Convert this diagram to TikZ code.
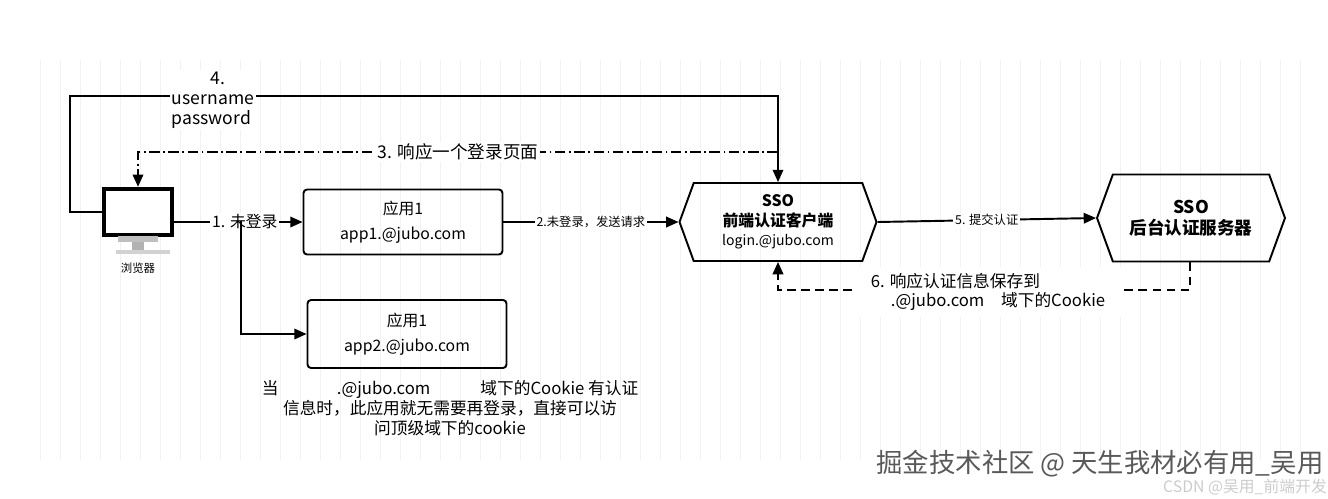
\documentclass[tikz,border=0pt]{standalone}
\usepackage{fontspec}
\setmainfont{Noto Sans CJK SC}
\usetikzlibrary{positioning,arrows.meta,shapes.misc,shapes.symbols}

\tikzset{
  flow/.style = {draw = black, line width = 1.1pt, -{Triangle[length=7pt,width=6pt]}},
  appbox/.style = {rectangle, rounded corners = 2pt, draw = black, line width = 1.1pt,
      minimum width = 3.98cm, minimum height = 1.3cm, align = center, font = \fontsize{9}{14}\selectfont},
  ssobox/.style = {signal, signal to = east and west, signal pointer angle = 140, draw = black,
      line width = 1.1pt, align = center, inner sep = 2pt},
  lbl/.style = {fill = white, inner sep = 1pt, font = \fontsize{9}{12}\selectfont},
  small/.style = {fill = white, inner sep = 1pt, font = \fontsize{7}{9}\selectfont},
}

\begin{document}
\begin{tikzpicture}[x=0.02cm, y=-0.02cm]
\useasboundingbox (0,0) rectangle (1328,498);

% faint grid
\draw[gray!10, step=20] (40,60) grid (1300,460);

% browser
\node[rectangle, draw = black, line width = 2.5pt, fill = white,
    minimum width = 1.36cm, minimum height = 0.92cm] (pc) at (138,212) {};
\fill[gray!50] (118,236) rectangle (158,242);
\fill[gray!60] (132,242) rectangle (144,250);
\fill[gray!35] (116,250) rectangle (170,254);
\node[font = \fontsize{6.5}{8}\selectfont] (pclbl) at (138,268) {浏览器};

% apps
\node[appbox] (app1) at (403,222) {应用1\\app1.@jubo.com};
\node[appbox, minimum height = 1.36cm] (app2) at (407,334) {应用1\\app2.@jubo.com};

% sso
\node[ssobox, minimum width = 3.94cm, minimum height = 1.56cm] (front) at (778,222)
    {\textbf{\fontsize{9}{12}\selectfont SSO}\\[-1pt]\textbf{\fontsize{9}{12}\selectfont 前端认证客户端}\\[-1pt]{\fontsize{8}{11}\selectfont login.@jubo.com}};
\node[ssobox, minimum width = 3.76cm, minimum height = 1.74cm] (back) at (1191,218)
    {\textbf{\fontsize{10}{13}\selectfont SSO}\\\textbf{\fontsize{10}{13}\selectfont 后台认证服务器}};

\coordinate (split) at (241,221);
\coordinate (up4) at (70,96);
\coordinate (dn6) at (1190,290);

% 1
\draw[flow] (pc.east |- app1.west) -- node[lbl, pos = 0.55] {1. 未登录} (app1.west);
\draw[flow] (split) |- (app2.west);
% 2
\draw[flow] (app1.east) -- node[small] {2.未登录，发送请求} (front.west);
% 3
\draw[line width = 1.1pt, dash pattern = on 6pt off 2pt on 1pt off 2pt, -{Triangle[length=7pt,width=6pt]}]
    (front.north |- 0,152) -- node[lbl, font = \fontsize{10}{12}\selectfont] {3. 响应一个登录页面} (pc.north |- 0,152) -- (pc.north);
% 4
\draw[flow] (pc.west) -| (up4) -| (front.north);
\node[lbl, align = left, font = \fontsize{10}{11.5}\selectfont] (cred) at (213,100) {\hspace*{2.2em}4.\\username\\password};
% 5
\draw[flow] (front.east) -- node[small] {5. 提交认证} (back.west);
% 6
\draw[line width = 1.1pt, dash pattern = on 5pt off 3pt, -{Triangle[length=7pt,width=6pt]}]
    (back.south -| dn6) -- (dn6) -- (front.south |- dn6) -- (front.south);
\node[fill = white, align = left, font = \fontsize{9.5}{11}\selectfont, minimum width = 5.4cm] (msg6) at (988,292)
    {6. 响应认证信息保存到\\\hspace*{1.2em}.@jubo.com\quad 域下的Cookie};

% note
\node[align = center, font = \fontsize{9.5}{11.5}\selectfont] (note) at (450,408)
    {当\hspace{3.5em}.@jubo.com\hspace{3em}域下的Cookie 有认证\\信息时，此应用就无需要再登录，直接可以访\\问顶级域下的cookie};

% watermark
\node[gray!70!black, font = \fontsize{15}{18}\selectfont] (wm) at (1100,464) {掘金技术社区 @ 天生我材必有用\_吴用};
\node[gray!40, font = \fontsize{9}{11}\selectfont] (csdn) at (1245,487) {CSDN @吴用\_前端开发};
\end{tikzpicture}
\end{document}
